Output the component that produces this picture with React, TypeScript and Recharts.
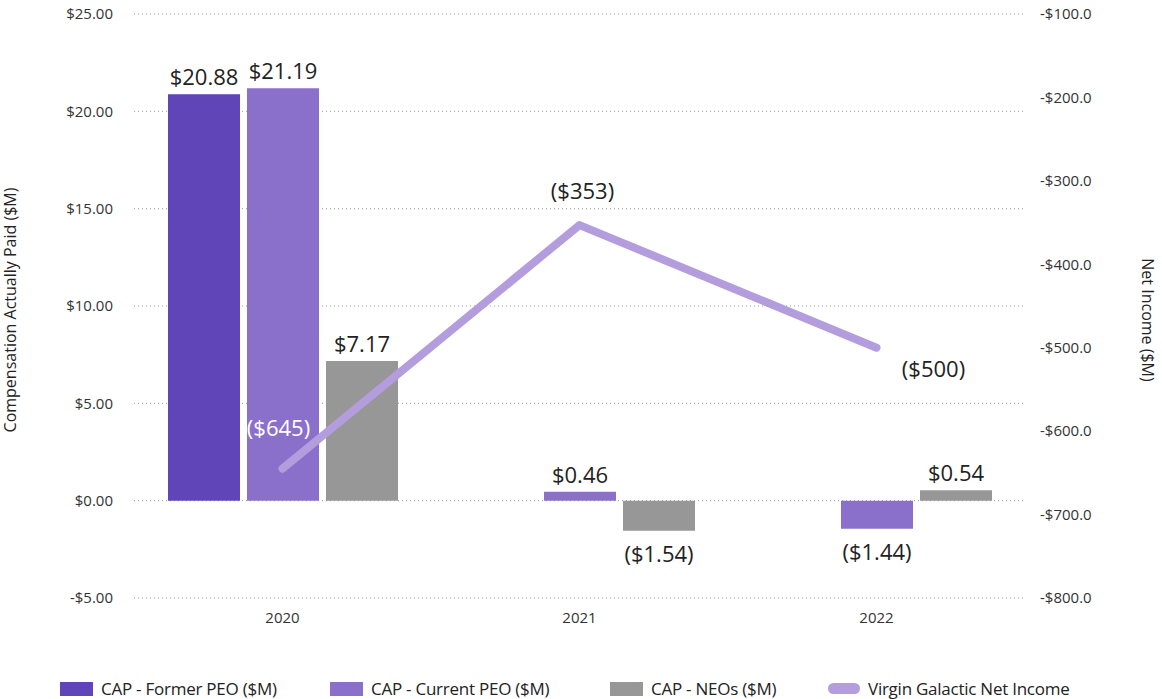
import React from "react";
import {
  ComposedChart,
  Bar,
  Line,
  XAxis,
  YAxis,
  CartesianGrid,
  LabelList,
  Label,
} from "recharts";

const years = ["2020", "2021", "2022"];
const formerPeo = [20.88, null, null];
const currentPeo = [21.19, 0.46, -1.44];
const neos = [7.17, -1.54, 0.54];
const netIncome = [-645, -353, -500];

const leftTicks = [-5, 0, 5, 10, 15, 20, 25];
const rightTicks = [-800, -700, -600, -500, -400, -300, -200, -100];

const legendItems = [
  { name: "CAP - Former PEO ($M)", color: "#5f45b8", kind: "bar" },
  { name: "CAP - Current PEO ($M)", color: "#8b70cb", kind: "bar" },
  { name: "CAP - NEOs ($M)", color: "#979797", kind: "bar" },
  { name: "Virgin Galactic Net Income", color: "#b39ddc", kind: "line" },
];

const FONT = "'Open Sans', sans-serif";

const data = years.map((year, i) => ({
  year,
  former: formerPeo[i],
  current: currentPeo[i],
  neos: neos[i],
  income: netIncome[i],
}));

const money = (v: number) =>
  v < 0 ? `($${Math.abs(v).toFixed(2)})` : `$${v.toFixed(2)}`;

function BarValue(props: any) {
  const { x, y, width, height, value } = props;
  if (value == null) return null;
  const top = Math.min(y, y + height);
  const bottom = Math.max(y, y + height);
  const ty = value < 0 ? bottom + 31 : top - 9;
  return (
    <text
      x={x + width / 2}
      y={ty}
      textAnchor="middle"
      fontSize={22}
      fontFamily={FONT}
      fill="#222"
    >
      {money(value)}
    </text>
  );
}

// where each net income label sits relative to its point
const incomeLabelPos = [
  { dx: -4, dy: -33, fill: "#ffffff" },
  { dx: 3, dy: -26, fill: "#222" },
  { dx: 57, dy: 29, fill: "#222" },
];

function IncomeValue(props: any) {
  const { x, y, value, index } = props;
  const p = incomeLabelPos[index] || { dx: 0, dy: -10, fill: "#222" };
  return (
    <text
      x={x + p.dx}
      y={y + p.dy}
      textAnchor="middle"
      fontSize={22}
      fontFamily={FONT}
      fill={p.fill}
    >
      {`($${Math.abs(value)})`}
    </text>
  );
}

export default function App() {
  const tickStyle = { fontSize: 15, fill: "#333", fontFamily: FONT };
  return (
    <div
      style={{
        position: "absolute",
        left: 0,
        top: 0,
        width: 1162,
        height: 699,
        background: "#fff",
        fontFamily: FONT,
      }}
    >
      <ComposedChart
        width={1162}
        height={640}
        data={data}
        margin={{ top: 14, right: 0, left: 0, bottom: 0 }}
        barSize={72}
        barGap={7}
      >
        <CartesianGrid
          yAxisId="left"
          vertical={false}
          stroke="#9a9a9a"
          strokeDasharray="1 3"
        />
        <XAxis
          dataKey="year"
          axisLine={false}
          tickLine={false}
          tick={tickStyle}
          tickMargin={8}
          height={42}
        />
        <YAxis
          yAxisId="left"
          domain={[-5, 25]}
          ticks={leftTicks}
          width={134}
          axisLine={false}
          tickLine={false}
          tickMargin={15}
          tick={tickStyle}
          tickFormatter={(v: number) =>
            v < 0 ? `-$${Math.abs(v).toFixed(2)}` : `$${v.toFixed(2)}`
          }
        >
          <Label
            content={() => (
              <text
                x={16}
                y={310}
                transform="rotate(-90 16 310)"
                textAnchor="middle"
                fontSize={16}
                fontFamily={FONT}
                fill="#222"
              >
                Compensation Actually Paid ($M)
              </text>
            )}
          />
        </YAxis>
        <YAxis
          yAxisId="right"
          orientation="right"
          domain={[-800, -100]}
          ticks={rightTicks}
          width={137}
          axisLine={false}
          tickLine={false}
          tickMargin={9}
          tick={tickStyle}
          tickFormatter={(v: number) => `-$${Math.abs(v).toFixed(1)}`}
        >
          <Label
            content={() => (
              <text
                x={1142}
                y={320}
                transform="rotate(90 1142 320)"
                textAnchor="middle"
                fontSize={16}
                fontFamily={FONT}
                fill="#222"
              >
                Net Income ($M)
              </text>
            )}
          />
        </YAxis>
        <Bar
          yAxisId="left"
          dataKey="former"
          fill={legendItems[0].color}
          isAnimationActive={false}
        >
          <LabelList dataKey="former" content={BarValue} />
        </Bar>
        <Bar
          yAxisId="left"
          dataKey="current"
          fill={legendItems[1].color}
          isAnimationActive={false}
        >
          <LabelList dataKey="current" content={BarValue} />
        </Bar>
        <Bar
          yAxisId="left"
          dataKey="neos"
          fill={legendItems[2].color}
          isAnimationActive={false}
        >
          <LabelList dataKey="neos" content={BarValue} />
        </Bar>
        <Line
          yAxisId="right"
          dataKey="income"
          stroke={legendItems[3].color}
          strokeWidth={8}
          strokeLinecap="round"
          strokeLinejoin="round"
          dot={false}
          activeDot={false}
          isAnimationActive={false}
        >
          <LabelList dataKey="income" content={IncomeValue} />
        </Line>
      </ComposedChart>

      <div style={{ position: "absolute", top: 677, left: 0, width: 1162, height: 22 }}>
        {legendItems.map((item, i) => (
          <div
            key={item.name}
            style={{
              position: "absolute",
              left: [60, 330, 610, 828][i],
              top: 0,
              display: "flex",
              alignItems: "center",
              whiteSpace: "nowrap",
            }}
          >
            <span
              style={{
                display: "inline-block",
                width: item.kind === "line" ? 32 : 33,
                height: item.kind === "line" ? 11 : 14,
                borderRadius: item.kind === "line" ? 6 : 0,
                background: item.color,
                marginRight: 8,
              }}
            />
            <span style={{ fontSize: 17, color: "#222", letterSpacing: -0.25 }}>
              {item.name}
            </span>
          </div>
        ))}
      </div>
    </div>
  );
}
